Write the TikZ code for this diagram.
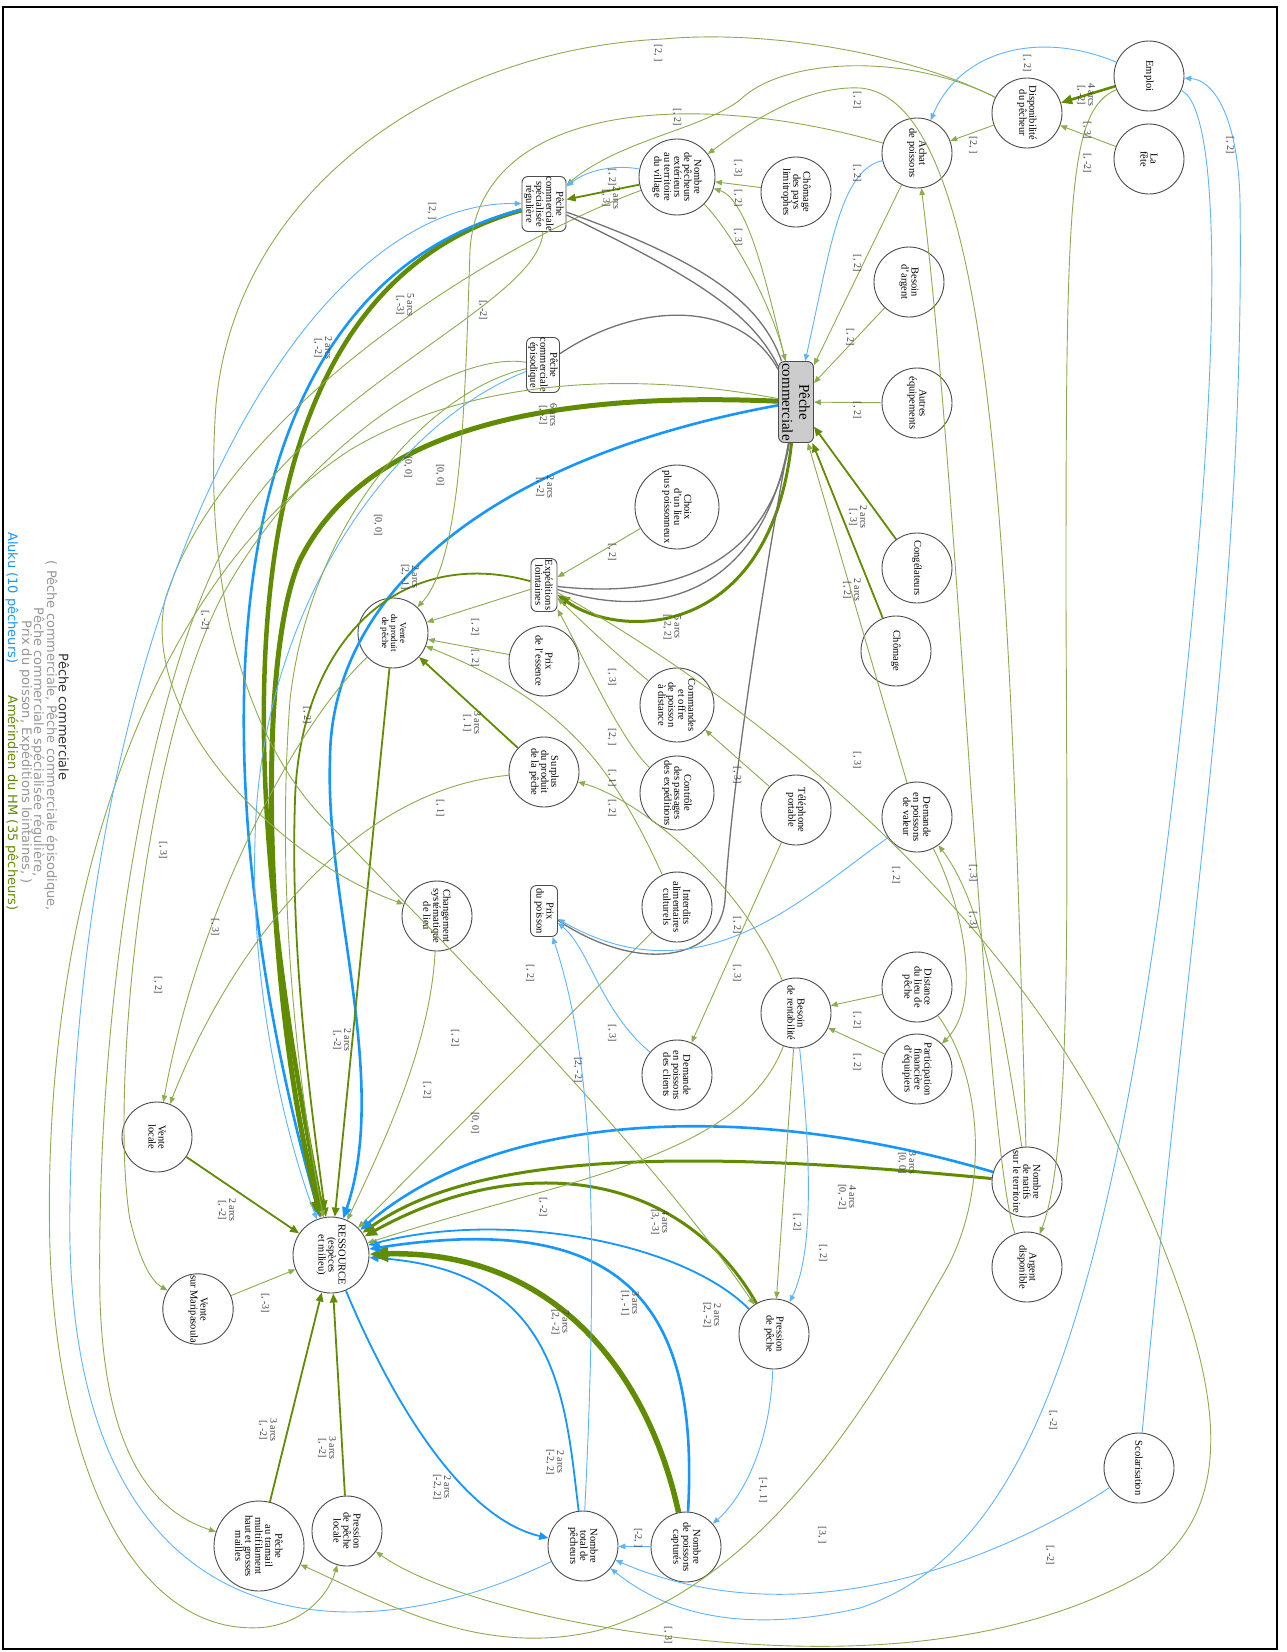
\documentclass[tikz,border=0pt]{standalone}
\usepackage{fontspec}
\setmainfont{Liberation Serif}
\newfontfamily\legfont{DejaVu Sans}
\usetikzlibrary{arrows.meta}
\definecolor{gD}{RGB}{98,140,0}
\definecolor{gL}{RGB}{140,172,80}
\definecolor{bD}{RGB}{24,150,255}
\definecolor{bL}{RGB}{95,180,255}
\definecolor{grl}{RGB}{115,115,115}
\definecolor{leggray}{RGB}{150,150,150}
\newcounter{lblc}
\newcommand{\elab}[3]{\stepcounter{lblc}\node[lbl] (lab\arabic{lblc}) at (#1,#2) {#3};}
\begin{document}
\begin{tikzpicture}[x=1pt,y=-1pt,
  nd/.style={circle,draw=black!70,line width=0.9pt,minimum size=70pt,inner sep=0pt,align=center,rotate=-90,font=\fontsize{10.5}{10}\selectfont},
  bx/.style={rectangle,rounded corners=6pt,draw=black!70,line width=0.9pt,inner sep=0pt,align=center,rotate=-90,font=\fontsize{10.5}{10}\selectfont},
  lbl/.style={rotate=-90,align=center,inner sep=0pt,font=\fontsize{10}{10}\selectfont,text=black!75},
  tip/.style={-{Triangle[length=4.5pt 2.6,width=3.5pt 2.2]}},
  g1/.style={draw=gL,line width=0.9pt,tip},
  g2/.style={draw=gD,line width=1.8pt,tip},
  g3/.style={draw=gD,line width=3pt,tip},
  g4/.style={draw=gD,line width=4.5pt,tip},
  b1/.style={draw=bL,line width=0.9pt,tip},
  b2/.style={draw=bD,line width=1.8pt,tip},
  b3/.style={draw=bD,line width=2.6pt,tip},
  gy/.style={draw=grl,line width=1.3pt},
  leg/.style={rotate=-90,inner sep=0pt,font=\legfont\fontsize{13}{13}\selectfont},
]
\useasboundingbox (0,0) rectangle (1287,1652);
\fill[white] (0,0) rectangle (1287,1652);
\draw[line width=2pt] (3,7) rectangle (1277,1649);

% ---------- nodes ----------
\node[nd] (emp) at (1149,76) {Emploi};
\node[nd] (dis) at (1027,113) {Disponibilité\\du pêcheur};
\node[nd] (fete) at (1149,159) {La\\fête};
\node[nd] (achat) at (917,153) {Achat\\de poissons};
\node[nd] (barg) at (909,282) {Besoin\\d'argent};
\node[nd] (autres) at (917,403) {Autres\\équipements};
\node[nd] (cong) at (917,568) {Congélateurs};
\node[nd] (chom) at (896,651) {Chômage};
\node[nd] (dval) at (917,817) {Demande\\en poissons\\de valeur};
\node[nd] (dist) at (917,987) {Distance\\du lieu de\\pêche};
\node[nd] (part) at (917,1069) {Participation\\financière\\d'équipiers};
\node[nd] (nat) at (1027,1182) {Nombre\\de natifs\\sur le territoire};
\node[nd] (arg) at (1027,1267) {Argent\\disponible};
\node[nd] (scol) at (1139,1468) {Scolarisation};
\node[nd,minimum size=76pt] (next) at (677,177) {Nombre\\de pêcheurs\\extérieurs\\au territoire\\du village};
\node[nd] (chpl) at (796,192) {Chômage\\des pays\\limitrophes};
\node[bx,minimum width=55pt,minimum height=44pt] (pcsr) at (544,204) {Pêche\\commerciale\\spécialisée\\régulière};
\node[bx,minimum width=55pt,minimum height=33pt] (pce) at (543,365) {Pêche\\commerciale\\épisodique};
\node[bx,minimum width=81pt,minimum height=35pt,fill=black!20,font=\fontsize{15}{17}\selectfont] (pc) at (796,402) {Pêche\\commerciale};
\node[nd,minimum size=84pt] (choix) at (677,507) {Choix\\d'un lieu\\plus poissonneux};
\node[bx,minimum width=53pt,minimum height=26pt] (exp) at (544,585) {Expéditions\\lointaines};
\node[nd] (essence) at (544,661) {Prix\\de l'essence};
\node[nd,font=\fontsize{9}{9}\selectfont] (vprod) at (393,633) {Vente\\du produit\\de pêche};
\node[nd,minimum size=74pt] (cmd) at (677,705) {Commandes\\et offre\\de poisson\\à distance};
\node[nd] (surplus) at (544,772) {Surplus\\du produit\\de la pêche};
\node[nd,minimum size=74pt] (ctrl) at (677,793) {Contrôle\\des passages\\des expéditions};
\node[nd] (tel) at (796,810) {Téléphone\\portable};
\node[nd] (chang) at (437,916) {Changement\\systématique\\de lieu};
\node[bx,minimum width=51pt,minimum height=27pt] (prixp) at (544,911) {Prix\\du poisson};
\node[nd] (interd) at (677,907) {Interdits\\alimentaires\\culturels};
\node[nd] (dcli) at (677,1075) {Demande\\en poissons\\des clients};
\node[nd] (brent) at (796,1013) {Besoin\\de rentabilité};
\node[nd] (vloc) at (157,1137) {Vente\\locale};
\node[nd,minimum size=76pt] (res) at (331,1255) {RESSOURCE\\(espèces\\et milieu)};
\node[nd] (vmar) at (198,1309) {Vente\\sur Maripasoula};
\node[nd,minimum size=90pt] (tram) at (259,1546) {Pêche\\au tramail\\multifilament\\haut et grosses\\mailles};
\node[nd] (ppl) at (347,1531) {Pression\\de pêche\\locale};
\node[nd] (pp) at (774,1334) {Pression\\de pêche};
\node[nd] (ntot) at (583,1546) {Nombre\\total de\\pêcheurs};
\node[nd] (npc) at (686,1547) {Nombre\\de poissons\\capturés};

% ---------- legend ----------
\node[leg,text=black!80] (t1) at (64,717) {Pêche commerciale};
\node[leg,text=leggray] (t2) at (51,736) {( Pêche commerciale, Pêche commerciale épisodique,};
\node[leg,text=leggray] (t3) at (38,742) {Pêche commerciale spécialisée régulière,};
\node[leg,text=leggray] (t4) at (26,752) {Prix du poisson, Expéditions lointaines, )};
\node[leg,text=bD,anchor=west] (t5) at (12,532) {Aluku (10 pêcheurs)};
\node[leg,text=gD,anchor=west] (t6) at (12,695) {Amérindien du HM (35 pêcheurs)};

% ---------- edges into RESSOURCE ----------
\draw[g4] (pcsr) .. controls (200,300) and (240,800) .. (res);
\draw[b3] (pcsr) .. controls (170,300) and (215,850) .. (res);
\draw[g4,line width=5pt] (pc) .. controls (520,390) and (360,440) .. (300,560) .. controls (255,660) and (265,1000) .. (res);
\draw[b3] (pc) .. controls (480,460) and (330,600) .. (330,760) .. controls (325,900) and (390,1080) .. (res);
\draw[g2] (exp) .. controls (400,545) and (300,640) .. (295,800) .. controls (290,950) and (310,1100) .. (res);
\draw[g2] (vprod) -- (res);
\draw[g2] (vloc) -- (res);
\draw[g1] (vmar) -- (res);
\draw[g2] (tram) -- (res);
\draw[g2] (ppl) -- (res);
\draw[b2] (res) .. controls (400,1420) and (470,1520) .. (ntot);
\draw[b2] (ntot) .. controls (565,1400) and (560,1270) .. (res);
\draw[g4,line width=5.5pt] (npc) .. controls (650,1380) and (560,1250) .. (res);
\draw[b3] (npc) .. controls (700,1300) and (620,1210) .. (res);
\draw[b2] (pp) .. controls (680,1240) and (500,1210) .. (res);
\draw[g3] (pp) .. controls (680,1170) and (520,1150) .. (res);
\draw[g3] (nat) .. controls (700,1150) and (480,1150) .. (res);
\draw[b3] (nat) .. controls (750,1100) and (500,1110) .. (res);
\draw[g1] (brent) .. controls (740,1160) and (560,1180) .. (res);
\draw[g1] (interd) -- (res);
\draw[g1] (chang) .. controls (430,1050) and (380,1150) .. (res);
\draw[b1] (pce) .. controls (400,420) and (260,600) .. (255,840) .. controls (250,1000) and (290,1150) .. (res);
\draw[g1] (pce) .. controls (430,390) and (310,520) .. (290,700) .. controls (275,900) and (300,1100) .. (res);

% ---------- long loops on the left ----------
\draw[g1] (next) .. controls (480,250) and (220,420) .. (165,600) .. controls (140,720) and (280,860) .. (chang);
\draw[g1] (pcsr) .. controls (540,300) and (330,380) .. (240,520) .. controls (150,660) and (95,1000) .. (100,1300) .. controls (105,1450) and (150,1510) .. (tram);
\draw[g1] (pc) .. controls (600,365) and (450,390) .. (350,450) .. controls (150,580) and (40,900) .. (50,1250) .. controls (60,1500) and (150,1640) .. (267,1627) .. controls (310,1620) and (330,1590) .. (ppl);
\draw[g1] (pce) .. controls (450,350) and (300,450) .. (220,600) .. controls (140,760) and (110,1100) .. (130,1220) .. controls (140,1260) and (150,1280) .. (vmar);
\draw[g1] (dis) .. controls (900,50) and (760,30) .. (663,39) .. controls (430,50) and (225,200) .. (215,420) .. controls (205,600) and (250,750) .. (333,828) .. controls (450,950) and (650,1150) .. (pp);

% ---------- other edges ----------
\draw[g3,line width=2.6pt] (emp) -- (dis);
\draw[b1] (emp) .. controls (1040,30) and (960,50) .. (achat);
\draw[g1] (dis) -- (achat);
\draw[g1] (fete) -- (dis);
\draw[g1] (emp) .. controls (1068,110) and (1066,200) .. (1066,600) .. controls (1067,900) and (1072,1150) .. (arg);
\draw[b1] (scol) .. controls (1190,900) and (1245,600) .. (1240,200) .. controls (1238,120) and (1215,80) .. (emp);
\draw[b1] (emp) .. controls (1225,110) and (1225,400) .. (1160,900) .. controls (1090,1400) and (1000,1560) .. (860,1608) .. controls (720,1640) and (650,1600) .. (ntot);
\draw[b1] (scol) .. controls (1000,1560) and (800,1640) .. (ntot);
\draw[g1] (dis) .. controls (900,50) and (780,60) .. (740,100) .. controls (700,130) and (620,140) .. (pcsr);
\draw[g1] (chpl) -- (next);
\draw[g1] (pc) .. controls (770,300) and (750,200) .. (next);
\draw[g1] (next) .. controls (730,230) and (770,300) .. (pc);
\draw[b1] (next) .. controls (620,165) and (590,168) .. (pcsr);
\draw[g2] (next) -- (pcsr);
\draw[b1] (ntot) .. controls (350,1660) and (60,1650) .. (70,1200) .. controls (80,600) and (300,200) .. (pcsr);
\draw[gy] (pcsr) .. controls (700,260) and (760,300) .. (pc);
\draw[gy] (pcsr) .. controls (690,275) and (750,310) .. (pc);
\draw[gy] (pce) .. controls (640,300) and (740,300) .. (pc);
\draw[gy] (pc) .. controls (770,560) and (680,600) .. (exp);
\draw[gy] (pc) .. controls (760,600) and (650,620) .. (exp);
\draw[g3] (pc) .. controls (770,640) and (620,640) .. (exp);
\draw[gy] (pc) .. controls (760,600) and (730,800) .. (725,900) .. controls (720,960) and (640,975) .. (prixp);
\draw[g1] (autres) -- (pc);
\draw[g1] (barg) -- (pc);
\draw[b1] (achat) .. controls (840,170) and (830,250) .. (pc);
\draw[g1] (achat) -- (pc);
\draw[g2] (cong) -- (pc);
\draw[g2] (chom) -- (pc);
\draw[g1] (dval) -- (pc);
\draw[g1] (choix) -- (exp);
\draw[g1] (cmd) .. controls (600,640) and (570,610) .. (exp);
\draw[g1] (ctrl) .. controls (620,740) and (580,650) .. (exp);
\draw[g1] (exp) -- (vprod);
\draw[g1] (essence) -- (vprod);
\draw[g2] (surplus) -- (vprod);
\draw[g1] (achat) .. controls (700,90) and (480,100) .. (470,250) .. controls (465,400) and (462,560) .. (vprod);
\draw[g1] (interd) .. controls (610,760) and (560,700) .. (vprod);
\draw[g1] (brent) .. controls (740,880) and (640,800) .. (surplus);
\draw[g1] (tel) -- (cmd);
\draw[g1] (tel) -- (dcli);
\draw[b1] (dval) .. controls (800,900) and (700,1000) .. (prixp);
\draw[b1] (dcli) .. controls (600,1010) and (590,950) .. (prixp);
\draw[b1] (ntot) .. controls (600,1200) and (590,1050) .. (prixp);
\draw[g1] (dist) -- (brent);
\draw[g1] (part) -- (brent);
\draw[g1] (dval) .. controls (960,900) and (985,1000) .. (part);
\draw[g1] (nat) .. controls (1000,1000) and (980,900) .. (dval);
\draw[g1] (arg) .. controls (985,1150) and (960,500) .. (achat);
\draw[g1] (brent) -- (pp);
\draw[b1] (brent) .. controls (810,1150) and (815,1250) .. (pp);
\draw[b1] (pp) .. controls (770,1450) and (740,1500) .. (npc);
\draw[b1] (npc) -- (ntot);
\draw[g1] (exp) .. controls (750,700) and (1000,900) .. (1120,1150) .. controls (1230,1380) and (1240,1500) .. (1150,1570) .. controls (1000,1660) and (800,1650) .. (700,1640) .. controls (550,1625) and (430,1590) .. (ppl);
\draw[g1] (dist) .. controls (985,1080) and (990,1200) .. (940,1280) .. controls (860,1420) and (760,1580) .. (600,1630) .. controls (480,1660) and (380,1600) .. (tram);
\draw[g1] (surplus) .. controls (350,790) and (230,950) .. (vloc);
\draw[g1] (vprod) .. controls (300,720) and (200,900) .. (vloc);
\draw[g1] (nat) .. controls (1010,600) and (1000,100) .. (860,88) .. controls (800,85) and (740,130) .. (next);

% ---------- labels ----------
\elab{1086}{95}{4 arcs\\{}[, -2]}
\elab{1027}{63}{[, 2]}
\elab{973}{145}{[2, ]}
\elab{1087}{163}{[, -2]}
\elab{1087}{130}{[, 3]}
\elab{1230}{145}{[, 2]}
\elab{1053}{1420}{[, -2]}
\elab{1050}{1555}{[, -2]}
\elab{658}{53}{[2, ]}
\elab{677}{117}{[, 2]}
\elab{857}{100}{[, 2]}
\elab{857}{173}{[, 2]}
\elab{857}{263}{[, 2]}
\elab{850}{337}{[, 2]}
\elab{857}{410}{[, 2]}
\elab{738}{168}{[, 3]}
\elab{738}{198}{[, 2]}
\elab{738}{237}{[, 3]}
\elab{612}{177}{[, 2]}
\elab{611}{198}{2 arcs\\{}[, 3]}
\elab{432}{211}{[2, ]}
\elab{405}{305}{5 arcs\\{}[, -3]}
\elab{323}{348}{2 arcs\\{}[, -2]}
\elab{548}{415}{6 arcs\\{}[, -2]}
\elab{483}{310}{[, -2]}
\elab{545}{487}{2 arcs\\{}[, -2]}
\elab{440}{475}{[0, 0]}
\elab{408}{467}{[0, 0]}
\elab{378}{525}{[0, 0]}
\elab{410}{577}{2 arcs\\{}[2, -1]}
\elab{205}{620}{[, -2]}
\elab{307}{715}{[, 2]}
\elab{612}{552}{[, 2]}
\elab{672}{627}{5 arcs\\{}[-2, 2]}
\elab{475}{627}{[, 2]}
\elab{475}{658}{[, 2]}
\elab{472}{723}{3 arcs\\{}[, 1]}
\elab{612}{677}{[, 3]}
\elab{612}{737}{[2, ]}
\elab{612}{778}{[, 1]}
\elab{612}{808}{[, 2]}
\elab{440}{808}{[, 1]}
\elab{737}{775}{[, 3]}
\elab{858}{517}{2 arcs\\{}[, 3]}
\elab{852}{590}{2 arcs\\{}[, 2]}
\elab{857}{760}{[, 3]}
\elab{896}{875}{[, 2]}
\elab{973}{873}{[, 3]}
\elab{973}{920}{[, 3]}
\elab{737}{925}{[, 2]}
\elab{737}{973}{[, 3]}
\elab{530}{973}{[, 2]}
\elab{612}{1033}{[, 3]}
\elab{578}{1070}{[2, -2]}
\elab{857}{1020}{[, 2]}
\elab{857}{1062}{[, 2]}
\elab{907}{1163}{3 arcs\\{}[0, 0]}
\elab{847}{1197}{4 arcs\\{}[0, -2]}
\elab{660}{1222}{4 arcs\\{}[3, -3]}
\elab{543}{1207}{[, -2]}
\elab{797}{1222}{[, 2]}
\elab{823}{1253}{[, 2]}
\elab{475}{1123}{[0, 0]}
\elab{455}{1038}{[, 2]}
\elab{427}{1090}{[, 2]}
\elab{342}{1040}{2 arcs\\{}[, -2]}
\elab{163}{850}{[, 3]}
\elab{215}{927}{[, 3]}
\elab{158}{985}{[, 2]}
\elab{227}{1210}{2 arcs\\{}[, -2]}
\elab{265}{1303}{[, -3]}
\elab{268}{1430}{3 arcs\\{}[, -2]}
\elab{327}{1448}{3 arcs\\{}[, -2]}
\elab{442}{1487}{2 arcs\\{}[-2, 2]}
\elab{555}{1462}{2 arcs\\{}[-2, 2]}
\elab{560}{1322}{7 arcs\\{}[2, -2]}
\elab{630}{1303}{3 arcs\\{}[1, -1]}
\elab{712}{1315}{2 arcs\\{}[2, -2]}
\elab{763}{1490}{[-1, 1]}
\elab{638}{1538}{[-2, ]}
\elab{822}{1535}{[3, ]}
\elab{668}{1635}{[, 3]}
\end{tikzpicture}
\end{document}
